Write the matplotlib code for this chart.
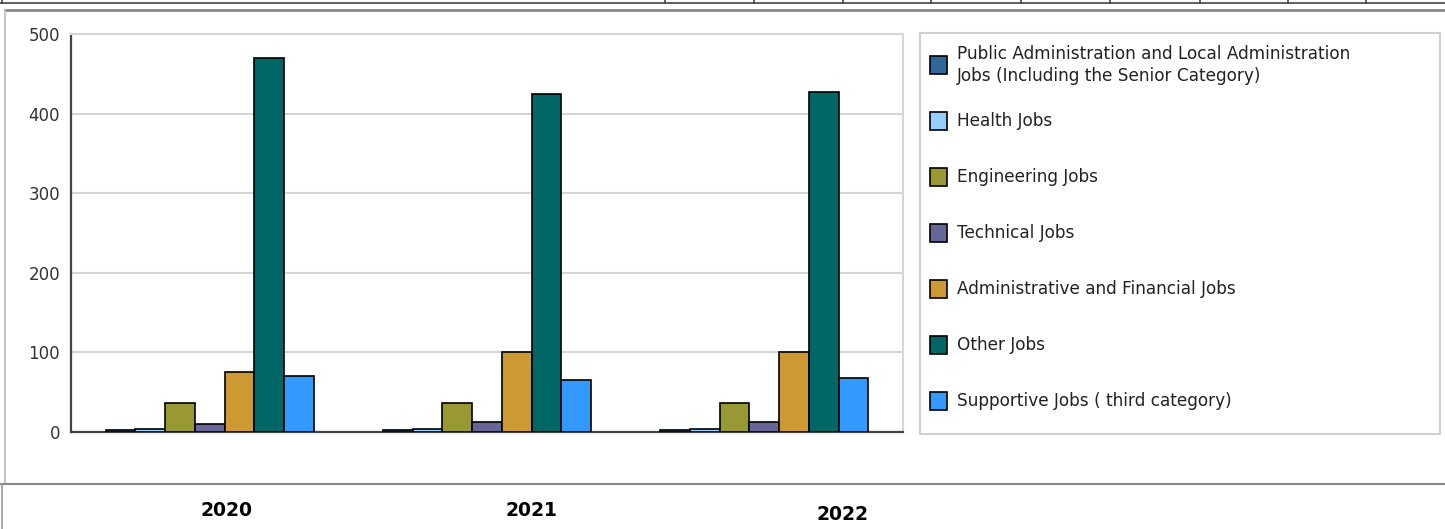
import numpy as np
import matplotlib.pyplot as plt
from matplotlib.patches import Rectangle
from matplotlib.lines import Line2D

years = ['2020', '2021', '2022']
series = [
    'Public Administration and Local Administration\nJobs (Including the Senior Category)',
    'Health Jobs',
    'Engineering Jobs',
    'Technical Jobs',
    'Administrative and Financial Jobs',
    'Other Jobs',
    'Supportive Jobs ( third category)',
]
public_admin = [2, 2, 2]
health = [4, 4, 4]
engineering = [37, 37, 37]
technical = [10, 12, 12]
admin_fin = [75, 100, 100]
other = [470, 425, 427]
supportive = [70, 65, 68]
values = [public_admin, health, engineering, technical, admin_fin, other, supportive]
colors = ['#336699', '#99ccff', '#999933', '#666699', '#cc9933', '#006666', '#3399ff']

W, H = 1445, 529
fig = plt.figure(figsize=(W / 100, H / 100), dpi=100)


def fx(px):
    return px / W


def fy(py):
    return 1 - py / H


# main plot area
ax = fig.add_axes([fx(71), fy(432), fx(903 - 71), fy(34) - fy(432)])
x = np.arange(len(years))
bw = 0.107
for i, (vals, c) in enumerate(zip(values, colors)):
    ax.bar(x + (i - 3) * bw, vals, bw, color=c, edgecolor='black', linewidth=1.2, zorder=3)
ax.set_xlim(-0.5, 2.5)
ax.set_ylim(0, 500)
ax.set_yticks([0, 100, 200, 300, 400, 500])
ax.set_xticks([])
ax.tick_params(axis='y', length=0, pad=8, labelsize=12, labelcolor='#333333')
ax.yaxis.grid(True, color='#d6d6d6', linewidth=1.5, zorder=0)
ax.spines['left'].set_color('#444444')
ax.spines['left'].set_linewidth(1.6)
ax.spines['bottom'].set_color('#444444')
ax.spines['bottom'].set_linewidth(1.6)
ax.spines['top'].set_color('#d6d6d6')
ax.spines['top'].set_linewidth(1.5)
ax.spines['right'].set_color('#d6d6d6')
ax.spines['right'].set_linewidth(1.5)

# legend box
lg = fig.add_axes([fx(920), fy(434), fx(1440 - 920), fy(33) - fy(434)])
lg.set_xlim(0, 520)
lg.set_ylim(401, 0)
lg.set_xticks([])
lg.set_yticks([])
for s in lg.spines.values():
    s.set_color('#d0d0d0')
    s.set_linewidth(1.5)
for i, (name, c) in enumerate(zip(series, colors)):
    yc = 32 + i * 56
    lg.add_patch(Rectangle((10, yc - 9), 17, 18, facecolor=c, edgecolor='black', linewidth=1.2))
    lg.text(37, yc, name, va='center', ha='left', fontsize=12.2, color='#222222',
            linespacing=1.35)

# table borders around the chart
lines = [
    ((0, 1445), (3, 3), '#444444', 1.2),
    ((5, 1445), (10, 10), '#888888', 2),
    ((5, 5), (10, 484), '#bbbbbb', 1.2),
    ((0, 1445), (484, 484), '#888888', 1.5),
    ((2, 2), (484, 529), '#999999', 1.2),
    ((2, 2), (0, 3), '#444444', 1.2),
]
for xs, ys, c, lw in lines:
    fig.add_artist(Line2D([fx(v) for v in xs], [fy(v) for v in ys], color=c, linewidth=lw))
for xv in [665, 754, 843, 931, 1021, 1110, 1200, 1288, 1366]:
    fig.add_artist(Line2D([fx(xv), fx(xv)], [fy(0), fy(3)], color='#444444', linewidth=1.2))

# year labels in the row below
label_pos = [(226, 511), (531, 510), (843, 514)]
for yr, (px, py) in zip(years, label_pos):
    fig.text(fx(px), fy(py), yr, ha='center', va='center', fontsize=13.5,
             fontweight='bold', color='black')

fig.savefig('out.png', dpi=100)
